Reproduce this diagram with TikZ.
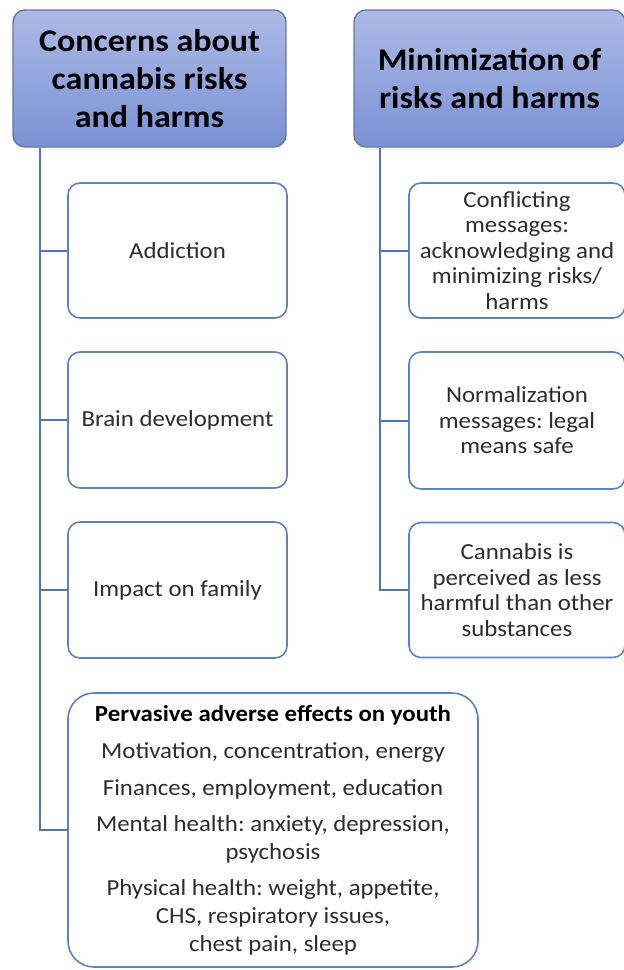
\documentclass[tikz,border=0pt]{standalone}
\usepackage{fontspec}
\setmainfont{Carlito}[FakeStretch=1.08]
\frenchspacing
\definecolor{headtop}{RGB}{172,186,230}
\definecolor{headbot}{RGB}{122,145,212}
\definecolor{headline}{RGB}{100,118,170}
\definecolor{boxline}{RGB}{90,130,200}
\definecolor{linkblue}{RGB}{80,115,190}
\definecolor{itemtext}{RGB}{45,45,45}
\begin{document}
\begin{tikzpicture}[x=1pt,y=-1pt,
  head/.style={draw=headline, rounded corners=12pt, top color=headtop, bottom color=headbot,
    line width=1.4pt, align=center, inner sep=0pt, minimum height=137pt,
    font=\fontsize{31.5}{38}\selectfont\bfseries},
  item/.style={draw=boxline, fill=white, rounded corners=12pt, line width=1.6pt,
    align=center, inner sep=0pt, text=itemtext, font=\fontsize{23}{25.5}\selectfont},
  link/.style={draw=linkblue, line width=2pt}]
\clip (0,0) rectangle (624,970);
% headers
\node [head, minimum width=273pt] (concerns) at (149.5,78.5) {Concerns about\\cannabis risks\\and harms};
\node [head, minimum width=271pt] (minim) at (489.5,78.5) {Minimization of\\risks and harms};
% left column
\node [item, minimum width=219pt, minimum height=135pt] (addiction) at (177.5,250.5) {Addiction};
\node [item, minimum width=219pt, minimum height=136pt] (brain) at (177.5,420) {Brain development};
\node [item, minimum width=219pt, minimum height=136pt] (family) at (177.5,590) {Impact on family};
\node [item, minimum width=410pt, minimum height=274pt, rounded corners=26pt,
  font=\fontsize{23}{28}\selectfont] (youth) at (273,830)
  {\textcolor{black}{\bfseries Pervasive adverse effects on youth}\\[9pt]
   Motivation, concentration, energy\\[9pt]
   Finances, employment, education\\[8pt]
   Mental health: anxiety, depression,\\psychosis\\[8pt]
   Physical health: weight, appetite,\\CHS, respiratory issues,\\chest pain, sleep};
% right column
\node [item, minimum width=216pt, minimum height=135pt] (conflict) at (517,250.5)
  {Conflicting\\messages:\\acknowledging and\\minimizing risks/\\harms};
\node [item, minimum width=216pt, minimum height=137pt] (normal) at (517,420.5)
  {Normalization\\messages: legal\\means safe};
\node [item, minimum width=216pt, minimum height=135pt] (less) at (517,590)
  {Cannabis is\\perceived as less\\harmful than other\\substances};
% connectors
\coordinate (lspine) at ([xshift=28pt]concerns.south west);
\coordinate (rspine) at ([xshift=27pt]minim.south west);
\draw [link] (lspine) |- (youth.west);
\draw [link] (addiction.west) -- (addiction.west -| lspine);
\draw [link] (brain.west) -- (brain.west -| lspine);
\draw [link] (family.west) -- (family.west -| lspine);
\draw [link] (rspine) |- (less.west);
\draw [link] (conflict.west) -- (conflict.west -| rspine);
\draw [link] (normal.west) -- (normal.west -| rspine);
\end{tikzpicture}
\end{document}
